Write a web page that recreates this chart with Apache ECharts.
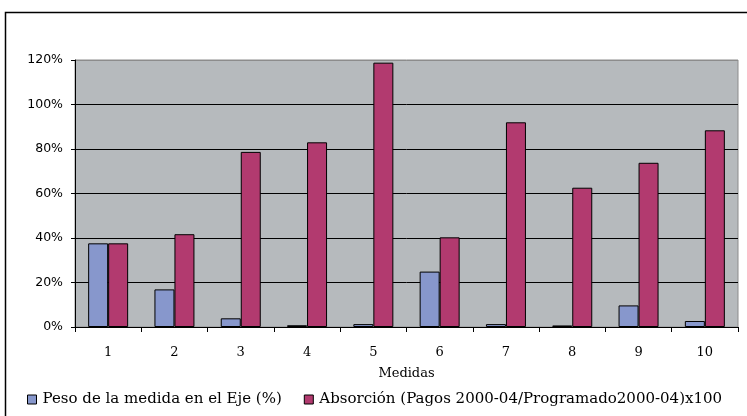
<!DOCTYPE html>
<html><head><meta charset="utf-8">
<script src="https://cdn.jsdelivr.net/npm/echarts@6/dist/echarts.min.js"></script>
<style>html,body{margin:0;padding:0;background:#fff}#c{width:747px;height:416px}</style>
</head><body><div id="c"></div>
<script>
const categories = ['1','2','3','4','5','6','7','8','9','10'];
const pesoValues = [37.6, 16.9, 3.9, 0.8, 1.3, 24.9, 1.3, 0.7, 9.7, 2.7];
const absorcionValues = [37.6, 41.7, 78.7, 83.0, 118.8, 40.3, 92.0, 62.6, 73.8, 88.4];
const seriesNames = ['Peso de la medida en el Eje (%)', 'Absorción (Pagos 2000-04/Programado2000-04)x100'];
const xAxisTitle = 'Medidas';

const chart = echarts.init(document.getElementById('c'));
chart.setOption({
  animation: false,
  graphic: [{
    type: 'rect', z: -10,
    shape: {x: 5.5, y: 12.5, width: 800, height: 500},
    style: {fill: 'none', stroke: '#000', lineWidth: 1.5}
  }],
  legend: {
    left: 22, top: 387, itemGap: 22,
    itemWidth: 9, itemHeight: 9, icon: 'rect',
    textStyle: {fontFamily: 'DejaVu Serif', fontSize: 15, color: '#000', padding: [0,0,0,1]},
    data: seriesNames.map(n => ({name: n, itemStyle: {borderColor: '#000', borderWidth: 1}}))
  },
  grid: {
    left: 75, top: 60, width: 663, height: 267,
    show: true, backgroundColor: '#B6BABD', borderColor: '#8c8c8c', borderWidth: 1
  },
  xAxis: {
    type: 'category', data: categories,
    name: xAxisTitle, nameLocation: 'middle', nameGap: 40,
    nameTextStyle: {fontFamily: 'DejaVu Serif', fontSize: 13, color: '#000'},
    axisLine: {lineStyle: {color: '#000', width: 1}},
    axisTick: {show: true, length: 5, alignWithLabel: false, lineStyle: {color: '#000'}},
    axisLabel: {fontFamily: 'DejaVu Serif', fontSize: 13, color: '#000', margin: 19}
  },
  yAxis: {
    type: 'value', min: 0, max: 120, interval: 20,
    axisLine: {show: true, lineStyle: {color: '#000', width: 1}},
    axisTick: {show: true, length: 4, lineStyle: {color: '#000'}},
    axisLabel: {formatter: '{value}%', fontFamily: 'DejaVu Sans', fontSize: 12.5, color: '#000', margin: 12},
    splitLine: {show: true, lineStyle: {color: ['#000','#000','#000','#000','#000','#000','#8c8c8c'], width: 1}}
  },
  series: [
    {name: seriesNames[0], type: 'bar', data: pesoValues, barWidth: 20, barGap: '0%',
     itemStyle: {color: '#8797CC', borderColor: '#000', borderWidth: 1}},
    {name: seriesNames[1], type: 'bar', data: absorcionValues, barWidth: 20, barGap: '0%',
     itemStyle: {color: '#B23A6F', borderColor: '#000', borderWidth: 1}}
  ]
});
</script></body></html>
